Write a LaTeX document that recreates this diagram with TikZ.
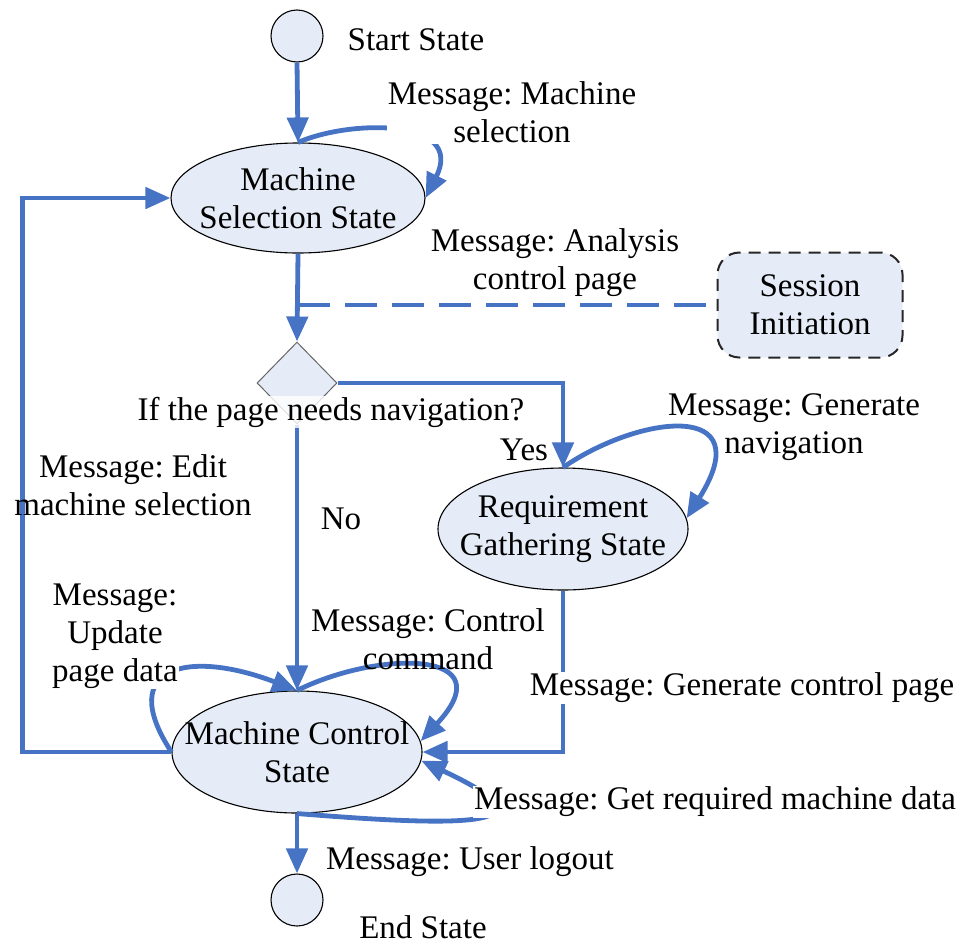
\documentclass[tikz,border=0pt]{standalone}
\usepackage{fontspec}
\setmainfont{Liberation Serif}
\usetikzlibrary{arrows.meta,shapes.geometric}
\definecolor{flowblue}{RGB}{70,115,196}
\definecolor{statefill}{RGB}{230,236,247}
\frenchspacing
\begin{document}
\begin{tikzpicture}[x=1pt,y=-1pt,
  txt/.style={font=\fontsize{33pt}{38pt}\selectfont, inner sep=0pt, align=center},
  masked/.style={txt, fill=white, inner sep=1pt},
  state/.style={ellipse, draw=black, line width=1.1pt, fill=statefill, inner sep=0pt},
  terminal/.style={circle, draw=black, line width=1.1pt, fill=statefill, minimum size=52pt, inner sep=0pt},
  decision/.style={diamond, draw=black!60, line width=1pt, fill=statefill, inner sep=0pt, minimum width=80pt, minimum height=82pt},
  session/.style={rectangle, rounded corners=22pt, draw=black!85, line width=2pt, dash pattern=on 12pt off 8pt, fill=statefill, minimum width=185pt, minimum height=105pt, txt},
  flow/.style={draw=flowblue, line width=4.8pt, -{Triangle[length=25pt,width=21pt]}},
  dashlink/.style={draw=flowblue, line width=4pt, dash pattern=on 32pt off 15pt},
]
\useasboundingbox (0,0) rectangle (963,945);

% states
\node[terminal] (start) at (297,36) {};
\node[state, minimum width=254pt, minimum height=110pt,
      label={[txt]center:{Machine\\Selection State}}] (msel) at (298,198) {};
\node[decision] (dec) at (297,383) {};
\node[session] (sess) at (810,305) {Session\\Initiation};
\node[state, minimum width=250pt, minimum height=122pt,
      label={[txt]center:{Requirement\\Gathering State}}] (req) at (563,529) {};
\node[state, minimum width=250pt, minimum height=122pt,
      label={[txt]center:{Machine Control\\State}}] (mctl) at (297,752) {};
\node[terminal] (end) at (297,900) {};

% transitions
\draw[flow] (start.south) -- (msel.north);
\draw[flow] (msel.north) .. controls +(52,-23) and +(40,-80) .. (msel.east);
\draw[flow] (msel.south) -- (dec.north);
\coordinate (tap) at (msel.south |- sess.west);
\draw[dashlink] (tap) -- (sess.west);
\draw[flow] (dec.east) -| (req.north);
\draw[flow] (req.north) .. controls +(77,-53) and +(74,-118) .. (req.5);
\draw[flow] (dec.south) -- (mctl.north);
\draw[flow] (req.south) |- (mctl.east);
\draw[flow] (mctl.west) -- ++(-149,0) |- (msel.west);
\draw[flow] (mctl.west) .. controls +(-57,-87) and +(-107,-41) .. (mctl.north);
\draw[flow] (mctl.north) .. controls +(83,-41) and +(85,-91) .. (mctl.5);
\draw[flow] (mctl.south) .. controls +(150,12) and +(150,70) .. (mctl.-4);
\draw[flow] (mctl.south) -- (end.north);

% labels
\node[txt] (lstart) at (416,40) {Start State};
\node[masked] (lmsel) at (512,112) {Message: Machine\\selection};
\node[txt] (lanalysis) at (555,263) {Message: Analysis\\control page};
\node[masked, fill opacity=0.8, text opacity=1] (lnav) at (331,412) {If the page needs navigation?};
\node[txt] (lyes) at (524,450) {Yes};
\node[txt] (lgennav) at (794,427) {Message: Generate\\navigation};
\node[txt] (ledit) at (133,485) {Message: Edit\\machine selection};
\node[txt] (lno) at (341,519) {No};
\node[masked] (lupdate) at (115,636) {Message:\\Update\\page data};
\node[txt] (lcmd) at (428,639) {Message: Control\\command};
\node[masked] (lgenctl) at (742,688) {Message: Generate control page};
\node[masked] (lgetdata) at (715,802) {Message: Get required machine data};
\node[txt] (llogout) at (470,862) {Message: User logout};
\node[txt] (lend) at (423,927) {End State};
\end{tikzpicture}
\end{document}
